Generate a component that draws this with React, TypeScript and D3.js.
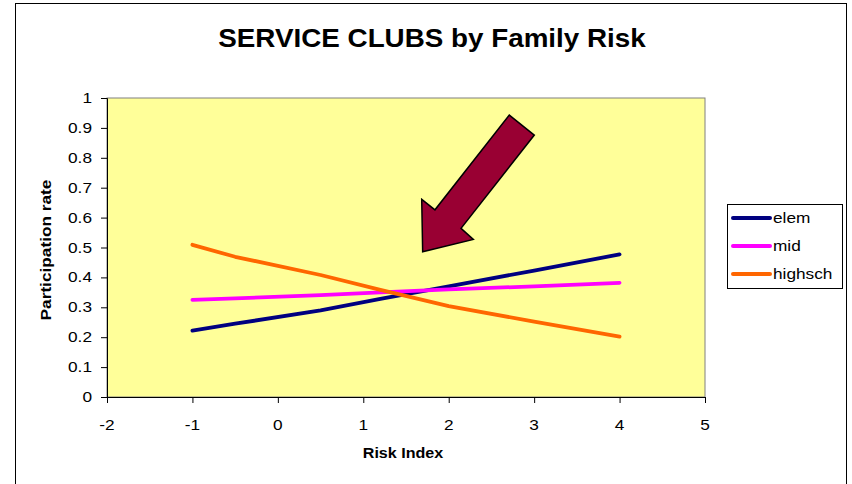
import React, {useEffect, useRef} from 'react'
import * as d3 from 'd3'

const width = 852
const height = 484
const margin = {top: 98, right: 147, bottom: 87, left: 107}
const innerWidth = width - margin.left - margin.right
const innerHeight = height - margin.top - margin.bottom

// the original text is drawn a bit wider than Arial
const stretch = 1.15

const riskIndex = [-1, -0.5, 0.5, 1.2, 2, 3, 4]
const elem = [0.222, 0.245, 0.29, 0.328, 0.37, 0.423, 0.477]
const mid = [0.325, 0.33, 0.341, 0.35, 0.36, 0.37, 0.382]
const highsch = [0.509, 0.469, 0.408, 0.358, 0.304, 0.252, 0.202]

const seriesNames = ['elem', 'mid', 'highsch']
const seriesColors = ['#000080', '#ff00ff', '#ff6600']

const xTicks = [-2, -1, 0, 1, 2, 3, 4, 5]
const yTicks = [0, 0.1, 0.2, 0.3, 0.4, 0.5, 0.6, 0.7, 0.8, 0.9, 1]

// annotation arrow, in data units (risk index, rate)
const arrowShape: [number, number][] = [
  [1.695, 0.486],
  [1.684, 0.661],
  [1.839, 0.626],
  [2.709, 0.943],
  [3.002, 0.876],
  [2.144, 0.564],
  [2.288, 0.527],
]

const App = () => {
  const chartRef = useRef<SVGSVGElement>(null)

  useEffect(() => {
    drawChart()
  }, [])

  const drawChart = () => {
    const svg = d3.select(chartRef.current)
    svg.selectAll('*').remove()
    svg.style('font-family', 'Arial, "Liberation Sans", sans-serif')

    const series = [elem, mid, highsch]

    const xScale = d3.scaleLinear().domain([-2, 5]).range([0, innerWidth])
    const yScale = d3.scaleLinear().domain([0, 1]).range([innerHeight, 0])

    // chart frame
    svg
      .append('rect')
      .attr('x', 15.5)
      .attr('y', 3.5)
      .attr('width', 831)
      .attr('height', 520)
      .attr('fill', '#fff')
      .attr('stroke', '#000')

    const stretched = (sel, x, y, rot = 0, sx = stretch) =>
      sel.attr('transform', `translate(${x},${y}) rotate(${rot}) scale(${sx},1)`)

    stretched(svg.append('text'), width / 2 + 6, 47, 0, 1.07)
      .attr('text-anchor', 'middle')
      .style('font-size', '26px')
      .style('font-weight', 'bold')
      .text('SERVICE CLUBS by Family Risk')

    const g = svg
      .append('g')
      .attr('transform', `translate(${margin.left},${margin.top})`)

    g.append('rect')
      .attr('width', innerWidth)
      .attr('height', innerHeight)
      .attr('fill', '#ffff99')
      .attr('stroke', '#808080')

    const xAxis = g
      .append('g')
      .attr('transform', `translate(0,${innerHeight})`)
      .call(d3.axisBottom(xScale).tickValues(xTicks).tickSize(6).tickFormat(() => ''))
    const yAxis = g
      .append('g')
      .call(d3.axisLeft(yScale).tickValues(yTicks).tickSize(6).tickFormat(() => ''))
    ;[xAxis, yAxis].forEach(a => {
      a.select('.domain').attr('stroke', '#000')
      a.selectAll('.tick line').attr('stroke', '#000')
    })

    xTicks.forEach(t => {
      stretched(g.append('text'), xScale(t), innerHeight + 33)
        .attr('text-anchor', 'middle')
        .style('font-size', '15px')
        .text(String(t))
    })
    yTicks.forEach(t => {
      stretched(g.append('text'), -15, yScale(t) + 5)
        .attr('text-anchor', 'end')
        .style('font-size', '15px')
        .text(String(+t.toFixed(1)))
    })

    stretched(g.append('text'), 403 - margin.left, innerHeight + 61)
      .attr('text-anchor', 'middle')
      .style('font-size', '14px')
      .style('font-weight', 'bold')
      .text('Risk Index')

    stretched(g.append('text'), 51 - margin.left, 250 - margin.top, -90)
      .attr('text-anchor', 'middle')
      .style('font-size', '15px')
      .style('font-weight', 'bold')
      .text('Participation rate')

    const line = d3
      .line<number>()
      .x((d, i) => xScale(riskIndex[i]))
      .y(d => yScale(d))

    series.forEach((s, k) => {
      g.append('path')
        .datum(s)
        .attr('d', line)
        .attr('fill', 'none')
        .attr('stroke', seriesColors[k])
        .attr('stroke-width', 3.8)
        .attr('stroke-linejoin', 'round')
        .attr('stroke-linecap', 'round')
    })

    g.append('polygon')
      .attr('points', arrowShape.map(p => `${xScale(p[0])},${yScale(p[1])}`).join(' '))
      .attr('fill', '#990033')
      .attr('stroke', '#000')
      .attr('stroke-width', 1.5)
      .attr('stroke-linejoin', 'miter')

    // legend
    const legend = svg.append('g').attr('transform', 'translate(727,204)')
    legend
      .append('rect')
      .attr('x', 0.5)
      .attr('y', 0.5)
      .attr('width', 115)
      .attr('height', 84)
      .attr('fill', '#fff')
      .attr('stroke', '#000')
    seriesNames.forEach((name, k) => {
      const y = 14 + k * 28
      legend
        .append('line')
        .attr('x1', 6)
        .attr('x2', 43)
        .attr('y1', y)
        .attr('y2', y)
        .attr('stroke', seriesColors[k])
        .attr('stroke-width', 4)
        .attr('stroke-linecap', 'round')
      stretched(legend.append('text'), 46, y + 5)
        .style('font-size', '15px')
        .text(name)
    })
  }

  return (
    <div style={{position: 'absolute', left: 0, top: 0}}>
      <svg ref={chartRef} width={width} height={height}></svg>
    </div>
  )
}

export default App
